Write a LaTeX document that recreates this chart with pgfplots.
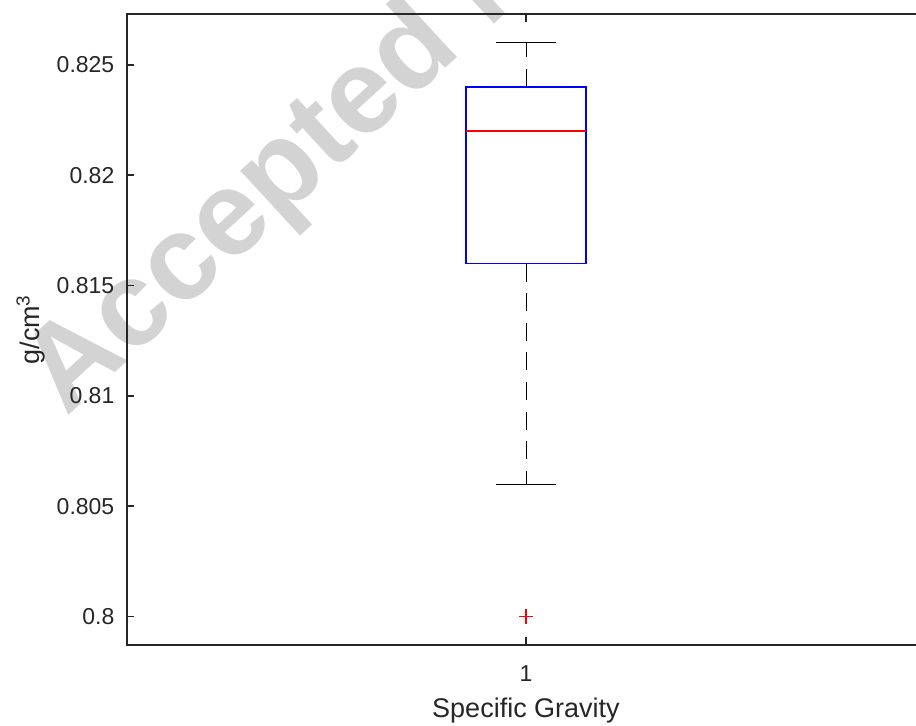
\documentclass[border=0pt]{standalone}
\usepackage{pgfplots}
\pgfplotsset{compat=1.18}
\usepackage{fontspec}
\setmainfont{Liberation Sans}

\definecolor{axgray}{RGB}{38,38,38}
\definecolor{wmgray}{RGB}{211,211,211}
\definecolor{boxblue}{RGB}{0,0,255}
\definecolor{medianred}{RGB}{255,0,0}

\begin{document}
\begin{tikzpicture}
% faint diagonal stamp behind the plot
\node[rotate=42.6, anchor=base west, inner sep=0pt, text=wmgray,
      font=\fontsize{60}{60}\selectfont\bfseries] at (-30.35pt,113.5pt) {Accepted Manuscript};

\begin{axis}[
  scale only axis,
  width=399.3pt, height=315.5pt,
  xmin=0.5, xmax=1.5,
  ymin=0.79871, ymax=0.82731,
  axis line style={axgray, line width=0.9pt},
  tick style={axgray, line width=0.9pt},
  tick align=inside,
  major tick length=3.8pt,
  xtick={1}, xticklabels={1},
  ytick={0.8,0.805,0.81,0.815,0.82,0.825},
  yticklabels={0.8,0.805,0.81,0.815,0.82,0.825},
  scaled y ticks=false,
  /pgf/number format/assume math mode=true,
  ticklabel style={font=\fontsize{11.5}{12}\selectfont, text=axgray, inner sep=0pt},
  yticklabel style={anchor=east, xshift=-6pt},
  xticklabel style={anchor=north, yshift=-10pt},
  xlabel={Specific Gravity},
  ylabel={g/cm\textsuperscript{3}},
  label style={font=\fontsize{13.5}{14}\selectfont, text=axgray, inner sep=0pt},
  xlabel style={at={(axis description cs:0.5,0)}, anchor=north, yshift=-26.5pt},
  ylabel style={at={(axis description cs:-0.1086,0.5)}, anchor=base},
  clip=false,
]
% box: lower quartile 0.816, upper quartile 0.824
\addplot[color=boxblue, line width=0.7pt, line cap=rect, line join=miter, mark=none]
  coordinates {(0.925,0.816) (1.075,0.816) (1.075,0.824) (0.925,0.824) (0.925,0.816)};
% whiskers, drawn from the box outward: upper 0.826, lower 0.806
\addplot[color=black, line width=0.5pt, dash pattern=on 9pt off 5.8pt, mark=none]
  coordinates {(1,0.824) (1,0.826)};
\addplot[color=black, line width=0.5pt, dash pattern=on 9pt off 5.8pt, mark=none]
  coordinates {(1,0.816) (1,0.806)};
% whisker caps
\addplot[color=black, line width=0.5pt, mark=none]
  coordinates {(0.9625,0.826) (1.0375,0.826)};
\addplot[color=black, line width=0.5pt, mark=none]
  coordinates {(0.9625,0.806) (1.0375,0.806)};
% median 0.822
\addplot[color=medianred, line width=0.7pt, mark=none]
  coordinates {(0.925,0.822) (1.075,0.822)};
% outlier
\addplot[only marks, mark=+, mark size=3.6pt,
  mark options={draw=medianred, solid, line width=0.7pt}]
  coordinates {(1,0.8)};
\end{axis}

\pgfresetboundingbox
\path[use as bounding box] (-63.35pt,-40pt) rectangle (394.65pt,322.5pt);
\end{tikzpicture}
\end{document}
